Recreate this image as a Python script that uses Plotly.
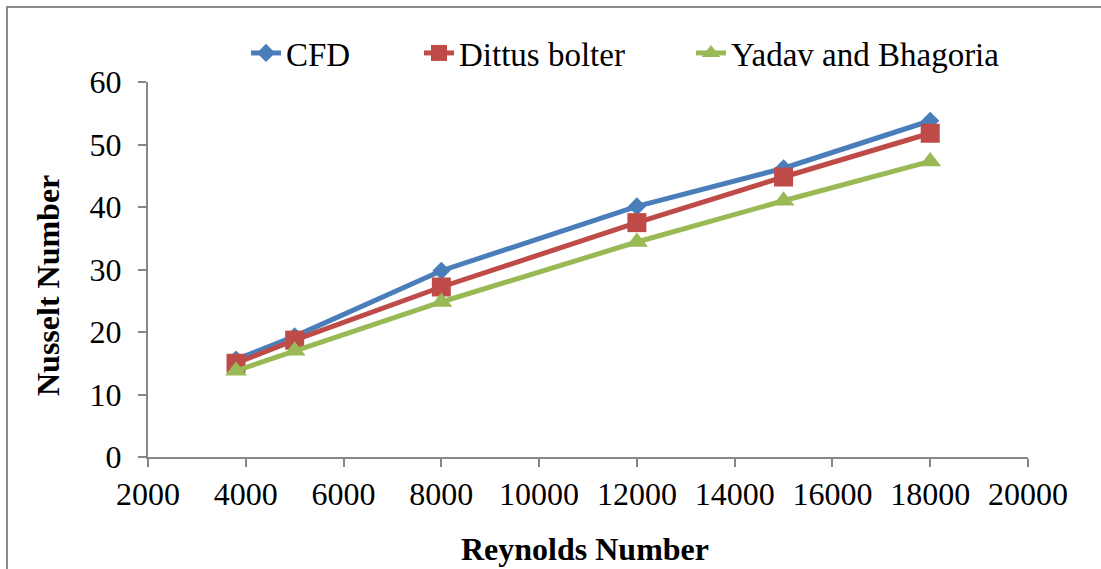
import plotly.graph_objects as go

reynolds = [3800, 5000, 8000, 12000, 15000, 18000]
cfd = [15.6, 19.3, 29.8, 40.1, 46.2, 53.8]
dittus = [15.0, 18.7, 27.2, 37.5, 44.8, 51.8]
yadav = [13.8, 17.0, 24.8, 34.4, 41.0, 47.3]

series_names = ["CFD", "Dittus bolter", "Yadav and Bhagoria"]
colors = ["#4A7EBB", "#BE4B48", "#98B954"]
symbols = ["diamond", "square", "triangle-up"]
sizes = [14, 19, 19]
legend_ids = ["legend", "legend2", "legend3"]

FONT = "Liberation Serif"
AX = "#868686"

W, H = 1101, 569
L, R, T, B = 148, 73, 82, 112
pw, ph = W - L - R, H - T - B

def px_x(x):
    return (x - L) / pw

def px_y(y):
    return (H - B - y) / ph

fig = go.Figure()
for name, vals, c, s, sz, lg in zip(series_names, [cfd, dittus, yadav], colors, symbols, sizes, legend_ids):
    fig.add_trace(go.Scatter(
        x=reynolds, y=vals, name=name, mode="lines+markers", legend=lg,
        line=dict(color=c, width=5),
        marker=dict(symbol=s, size=sz, color=c, line=dict(width=0)),
    ))

legend_text_x = [287, 460, 732]

def mk_legend(tx):
    return dict(orientation="h", x=px_x(tx - 41), xanchor="left", y=px_y(53), yanchor="middle",
                font=dict(size=33, family=FONT, color="black"), bgcolor="rgba(0,0,0,0)",
                itemwidth=30)

fig.update_layout(
    width=W, height=H,
    margin=dict(l=L, r=R, t=T, b=B, pad=0),
    paper_bgcolor="white", plot_bgcolor="white",
    font=dict(family=FONT, size=32, color="black"),
    showlegend=True,
    legend=mk_legend(legend_text_x[0]),
    legend2=mk_legend(legend_text_x[1]),
    legend3=mk_legend(legend_text_x[2]),
    xaxis=dict(range=[2000, 20000], tickvals=list(range(2000, 20001, 2000)), tickformat="d",
               showgrid=False, zeroline=False, showline=True, linecolor=AX, linewidth=2,
               ticks="outside", ticklen=8, tickcolor=AX, tickwidth=2,
               tickfont=dict(size=32, family=FONT, color="black")),
    yaxis=dict(range=[0, 60], tickvals=list(range(0, 61, 10)), tickformat="d",
               showgrid=False, zeroline=False, showline=True, linecolor=AX, linewidth=2,
               ticks="outside", ticklen=8, tickcolor=AX, tickwidth=2, ticklabelstandoff=10,
               tickfont=dict(size=32, family=FONT, color="black")),
    annotations=[
        dict(text="<b>Reynolds Number</b>", xref="paper", yref="paper",
             x=px_x(585), y=px_y(549), xanchor="center", yanchor="middle",
             showarrow=False, font=dict(size=32, family=FONT, color="black")),
        dict(text="<b>Nusselt Number</b>", xref="paper", yref="paper",
             x=px_x(48), y=px_y(286), xanchor="center", yanchor="middle", textangle=-90,
             showarrow=False, font=dict(size=32, family=FONT, color="black")),
    ],
    shapes=[
        dict(type="rect", xref="paper", yref="paper",
             x0=px_x(7), x1=px_x(1120), y0=px_y(7), y1=px_y(600),
             line=dict(color="#8C8C8C", width=2), fillcolor="rgba(0,0,0,0)", layer="below"),
    ],
)

fig.write_html("out.html")
